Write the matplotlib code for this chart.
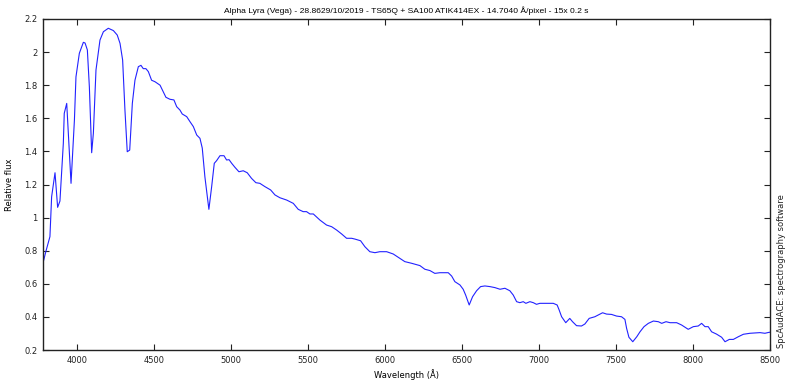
import matplotlib
matplotlib.use("Agg")
import matplotlib.pyplot as plt
from matplotlib.ticker import FuncFormatter, MultipleLocator

wavelength = [3780, 3800, 3825, 3836, 3858, 3875, 3890, 3912, 3918, 3934, 3962, 3984, 3994,
              4016, 4042, 4053, 4068, 4081, 4096, 4107, 4124, 4150, 4172, 4204, 4237, 4262,
              4280, 4297, 4312, 4327, 4343, 4360, 4377, 4399, 4416, 4431, 4448, 4464, 4485,
              4507, 4540, 4561, 4578, 4604, 4630, 4648, 4669, 4684, 4713, 4734, 4756, 4778,
              4799, 4814, 4831, 4857, 4875, 4892, 4907, 4929, 4955, 4972, 4988, 5005, 5026,
              5052, 5080, 5106, 5134, 5162, 5188, 5221, 5258, 5286, 5318, 5362, 5405, 5437,
              5469, 5491, 5513, 5535, 5578, 5621, 5654, 5686, 5719, 5751, 5784, 5806, 5842,
              5870, 5902, 5935, 5967, 6011, 6054, 6097, 6129, 6173, 6227, 6259, 6292, 6324,
              6357, 6411, 6433, 6454, 6487, 6508, 6524, 6547, 6569, 6595, 6621, 6649, 6682,
              6714, 6747, 6779, 6811, 6833, 6855, 6876, 6898, 6915, 6941, 6963, 6984, 7006,
              7049, 7093, 7118, 7131, 7147, 7174, 7200, 7218, 7244, 7276, 7298, 7326, 7363,
              7384, 7413, 7439, 7471, 7504, 7536, 7558, 7569, 7584, 7609, 7635, 7656, 7682,
              7710, 7743, 7775, 7797, 7825, 7851, 7894, 7926, 7969, 8002, 8034, 8056, 8078,
              8099, 8121, 8153, 8186, 8208, 8236, 8262, 8294, 8327, 8370, 8435, 8467, 8495, 8500]
flux = [0.726, 0.80, 0.885, 1.126, 1.271, 1.062, 1.10, 1.449, 1.63, 1.69, 1.207, 1.59, 1.85,
        1.993, 2.059, 2.055, 2.013, 1.79, 1.392, 1.51, 1.892, 2.073, 2.123, 2.144, 2.13, 2.103,
        2.053, 1.952, 1.65, 1.398, 1.408, 1.69, 1.83, 1.912, 1.92, 1.90, 1.90, 1.882, 1.83,
        1.821, 1.80, 1.76, 1.727, 1.715, 1.711, 1.67, 1.65, 1.626, 1.61, 1.58, 1.55, 1.499,
        1.479, 1.42, 1.247, 1.05, 1.187, 1.328, 1.344, 1.374, 1.374, 1.348, 1.35, 1.328, 1.304,
        1.277, 1.283, 1.271, 1.237, 1.211, 1.207, 1.187, 1.167, 1.137, 1.12, 1.106, 1.086, 1.05,
        1.036, 1.036, 1.022, 1.022, 0.985, 0.955, 0.945, 0.925, 0.901, 0.875, 0.875, 0.87, 0.86,
        0.824, 0.794, 0.788, 0.794, 0.794, 0.78, 0.754, 0.734, 0.724, 0.71, 0.688, 0.68, 0.663,
        0.667, 0.667, 0.647, 0.613, 0.593, 0.567, 0.532, 0.472, 0.522, 0.558, 0.583, 0.587, 0.583,
        0.577, 0.567, 0.573, 0.558, 0.532, 0.492, 0.486, 0.492, 0.482, 0.492, 0.486, 0.476, 0.482,
        0.482, 0.482, 0.472, 0.442, 0.401, 0.365, 0.391, 0.371, 0.347, 0.345, 0.357, 0.391, 0.401,
        0.411, 0.425, 0.417, 0.415, 0.405, 0.401, 0.385, 0.331, 0.277, 0.25, 0.28, 0.31, 0.341,
        0.361, 0.375, 0.371, 0.361, 0.371, 0.365, 0.365, 0.351, 0.325, 0.341, 0.345, 0.361, 0.341,
        0.341, 0.31, 0.296, 0.277, 0.25, 0.264, 0.264, 0.28, 0.295, 0.301, 0.305, 0.301, 0.307, 0.307]

x_ticks = [4000, 4500, 5000, 5500, 6000, 6500, 7000, 7500, 8000, 8500]
title = "Alpha Lyra (Vega) - 28.8629/10/2019 - TS65Q + SA100 ATIK414EX - 14.7040 Å/pixel - 15x 0.2 s"

fig = plt.figure(figsize=(8.0, 3.81), dpi=100)
ax = fig.add_axes([43/800, 31/381, 727/800, 331/381])
ax.plot(wavelength, flux, color="#2222ff", lw=0.8)
ax.set_xlim(3780, 8500)
ax.set_ylim(0.2, 2.2)
ax.set_xticks(x_ticks)
ax.yaxis.set_major_locator(MultipleLocator(0.2))
ax.yaxis.set_major_formatter(FuncFormatter(lambda v, p: f"{v:.1f}".rstrip("0").rstrip(".")))
ax.tick_params(direction="in", length=4, width=0.8, labelsize=6, colors="#222222",
               top=True, right=True, pad=4)
for s in ax.spines.values():
    s.set_linewidth(1.0)
    s.set_color("#222222")
ax.set_title(title, fontsize=6.1, pad=4, family="Liberation Sans")
ax.set_xlabel("Wavelength (Å)", fontsize=6, labelpad=3)
ax.set_ylabel("Relative flux", fontsize=6, labelpad=7)
fig.text(781/800, 33/381, "SpcAudACE: spectrography software", rotation=90,
         fontsize=6, ha="center", va="bottom", color="#222222")
fig.savefig("out.png", dpi=100)
